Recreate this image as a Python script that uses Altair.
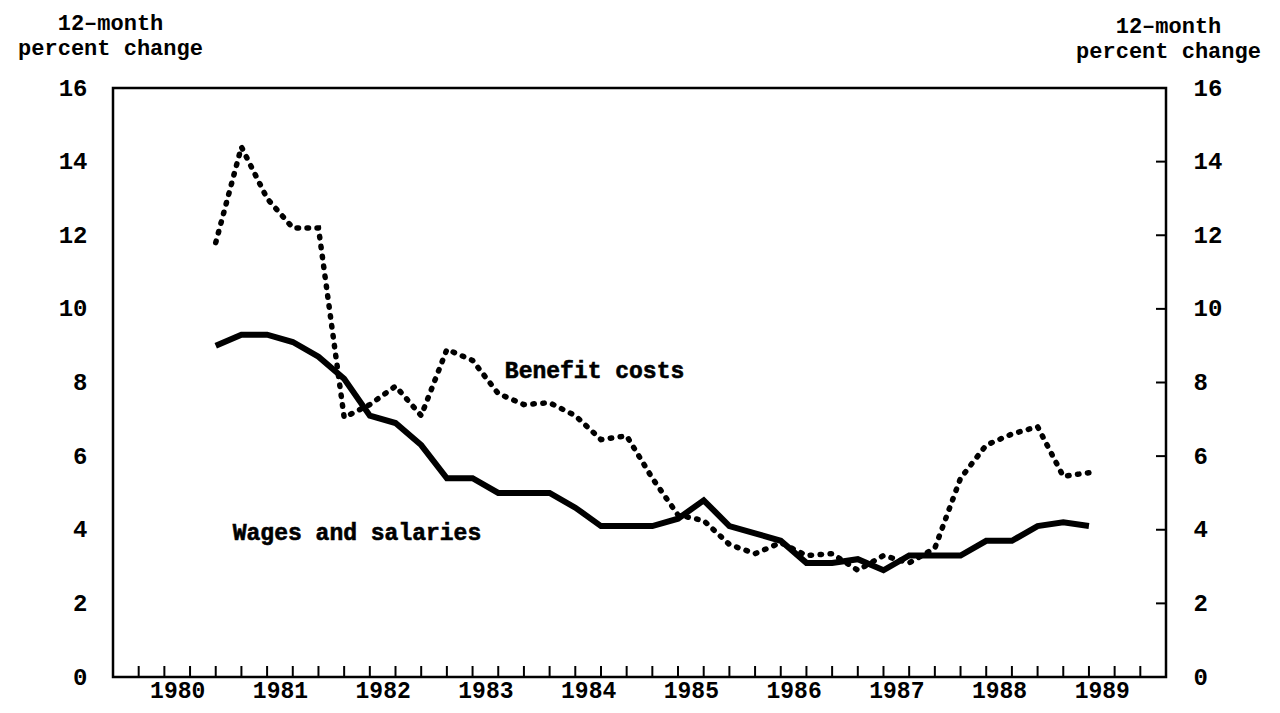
import altair as alt
import pandas as pd

FONT = "Liberation Mono"

# Quarterly observations, 1980 Q4 through 1989 Q2
periods = [f"{y}Q{q}" for y in range(1980, 1990) for q in range(1, 5)][3:38]
wages = [9.0, 9.3, 9.3, 9.1, 8.7, 8.1, 7.1, 6.9, 6.3, 5.4, 5.4, 5.0, 5.0, 5.0,
         4.6, 4.1, 4.1, 4.1, 4.3, 4.8, 4.1, 3.9, 3.7, 3.1, 3.1, 3.2, 2.9, 3.3,
         3.3, 3.3, 3.7, 3.7, 4.1, 4.2, 4.1]
benefits = [11.8, 14.4, 13.0, 12.2, 12.2, 7.05, 7.4, 7.9, 7.1, 8.9, 8.6, 7.7,
            7.4, 7.45, 7.1, 6.45, 6.55, 5.4, 4.4, 4.25, 3.6, 3.35, 3.65, 3.3,
            3.35, 2.9, 3.3, 3.1, 3.5, 5.4, 6.3, 6.6, 6.8, 5.45, 5.55]
year_labels = [str(y) for y in range(1980, 1990)]
y_ticks = [0, 2, 4, 6, 8, 10, 12, 14, 16]
right_inner_ticks = [2, 4, 6, 8, 10, 12, 14]
annot_text = ["Benefit costs", "Wages and salaries"]
annot_q = [17.75, 8.5]
annot_v = [8.3, 3.9]

def qindex(p):
    return (int(p[:4]) - 1980) * 4 + int(p[-1]) - 1

df = pd.DataFrame({"period": periods,
                   "q": [qindex(p) for p in periods],
                   "wages": wages, "benefits": benefits})
ticks_df = pd.DataFrame({"q": list(range(40))})
rt_df = pd.DataFrame({"v": right_inner_ticks})
ann_df = pd.DataFrame({"label": annot_text, "q": annot_q, "v": annot_v})

W, H = 1053, 589
xs = alt.Scale(domain=[-1, 40], nice=False, zero=False)
ys = alt.Scale(domain=[0, 16], nice=False, zero=True)

x_axis = alt.Axis(values=[1.5 + 4 * i for i in range(len(year_labels))],
                  labelExpr="'' + (1980 + floor(datum.value / 4))",
                  ticks=False, tickSize=0, labelPadding=2, title="",
                  labelFlush=False, labelOverlap=False, labelFontSize=23)

left_axis = alt.Axis(values=y_ticks, ticks=False, tickSize=0, labelPadding=26,
                     labelFlush=False, labelOverlap=False, labelFontSize=24,
                     title=["12\u2013month", "percent change"], titleAngle=0,
                     titleAlign="center", titleBaseline="alphabetic",
                     titleX=-3, titleY=-59, titleLineHeight=25, titleFontSize=22)

right_axis = alt.Axis(orient="right", values=y_ticks, ticks=False, tickSize=0,
                      labelPadding=27, labelFlush=False, labelOverlap=False,
                      labelFontSize=24,
                      title=["12\u2013month", "percent change"], titleAngle=0,
                      titleAlign="center", titleBaseline="alphabetic",
                      titleX=2, titleY=-56, titleLineHeight=25, titleFontSize=22)

wages_line = alt.Chart(df).mark_line(color="black", strokeWidth=6).encode(
    x=alt.X("q:Q", scale=xs, axis=x_axis),
    y=alt.Y("wages:Q", scale=ys, axis=left_axis),
)

x_ticks = alt.Chart(ticks_df).mark_rule(color="black", strokeWidth=2).encode(
    x=alt.X("q:Q", scale=xs, axis=x_axis),
    y=alt.value(H - 11), y2=alt.value(H),
)

ann = alt.Chart(ann_df).mark_text(font=FONT, fontSize=23, fontWeight="bold",
                                  color="black", align="center",
                                  baseline="middle", stroke="black",
                                  strokeWidth=0.6).encode(
    x=alt.X("q:Q", scale=xs, axis=x_axis),
    y=alt.Y("v:Q", scale=ys, axis=left_axis),
    text="label:N",
)

left_group = alt.layer(wages_line, x_ticks, ann)

benefit_line = alt.Chart(df).mark_line(color="black", strokeWidth=5.5,
                                       strokeDash=[1.5, 8.5],
                                       strokeCap="round").encode(
    x=alt.X("q:Q", scale=xs, axis=x_axis),
    y=alt.Y("benefits:Q", scale=ys, axis=right_axis),
)

r_ticks = alt.Chart(rt_df).mark_rule(color="black", strokeWidth=2).encode(
    y=alt.Y("v:Q", scale=ys, axis=right_axis),
    x=alt.value(W - 10), x2=alt.value(W),
)

right_group = alt.layer(benefit_line, r_ticks)

chart = alt.layer(left_group, right_group).resolve_scale(y="independent").properties(
    width=W, height=H,
    padding={"left": 105, "top": 80, "right": 106, "bottom": 28},
    autosize=alt.AutoSizeParams(type="none"),
    background="white",
).configure_view(stroke="black", strokeWidth=2.5).configure_axis(
    grid=False, domain=False,
    labelFont=FONT, labelFontWeight="bold", labelColor="black",
    titleFont=FONT, titleFontWeight="bold", titleColor="black",
)

chart.save("out.html", embed_options={"renderer": "svg", "actions": False})
